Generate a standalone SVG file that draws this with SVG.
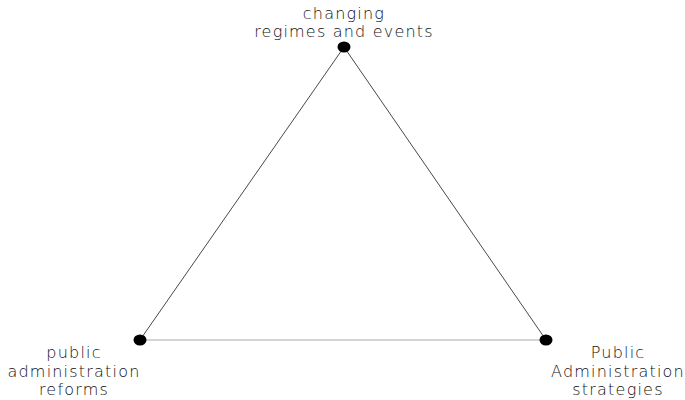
<svg xmlns="http://www.w3.org/2000/svg" width="685" height="400" viewBox="0 0 685 400">
<style>
text{font-family:"DejaVu Sans","Liberation Sans",sans-serif;font-size:16px;fill:#111;text-anchor:middle;font-weight:300;letter-spacing:1.2px}
.dot{fill:#000}
</style>
<rect width="685" height="400" fill="#fff"/>
<g id="connectors">
<line x1="344" y1="47" x2="140" y2="340" stroke="#333" stroke-width="0.9"/>
<line x1="344" y1="47" x2="546" y2="340" stroke="#333" stroke-width="0.9"/>
<line x1="140" y1="340" x2="546" y2="340" stroke="#aaa" stroke-width="1.2"/>
</g>
<g id="node-top">
<ellipse class="dot" cx="344" cy="47" rx="6.5" ry="5.5"/>
<text x="344" y="19">changing</text>
<text x="344" y="37">regimes and events</text>
</g>
<g id="node-left">
<ellipse class="dot" cx="140" cy="340" rx="6.5" ry="5.5"/>
<text x="74" y="358">public</text>
<text x="74" y="377">administration</text>
<text x="74" y="395">reforms</text>
</g>
<g id="node-right">
<ellipse class="dot" cx="546" cy="340" rx="6.5" ry="5.5"/>
<text x="618" y="358">Public</text>
<text x="618" y="377">Administration</text>
<text x="618" y="395">strategies</text>
</g>
</svg>
